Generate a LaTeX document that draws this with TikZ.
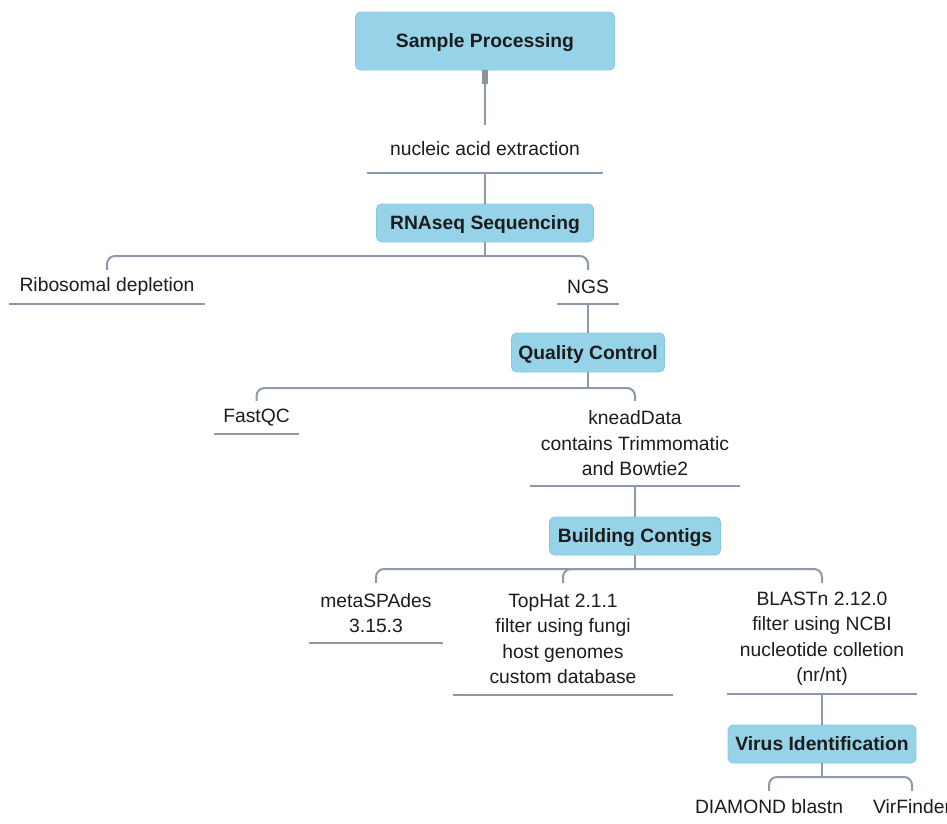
\documentclass[tikz,border=0pt]{standalone}
\usepackage{fontspec}
\setmainfont{Liberation Sans}

\definecolor{boxblue}{HTML}{97D3E8}
\definecolor{boxedge}{HTML}{86C8E0}
\definecolor{wire}{HTML}{8E98AB}
\definecolor{stubgray}{HTML}{8A93A4}
\definecolor{ink}{HTML}{1C1C1C}

\tikzset{
  stage/.style={rectangle, rounded corners=5pt, fill=boxblue, draw=boxedge,
    line width=0.8pt, inner sep=0pt, text=ink, text height=13.8pt, text depth=0pt,
    font=\fontsize{19.3}{23}\selectfont\bfseries},
  leaf/.style={rectangle, inner sep=0pt, align=center, text=ink,
    font=\fontsize{19.3}{25.5}\selectfont},
  wire/.style={draw=wire, line width=2pt},
  bus/.style={wire, rounded corners=8pt},
  rule/.style={draw=wire, line width=2pt},
  tab/.style={draw=stubgray, line width=6pt},
}

\begin{document}
\begin{tikzpicture}[x=1pt, y=-1pt]
  \useasboundingbox (0,0) rectangle (947,823);
  \clip (0,0) rectangle (947,823);

  % stages and their leaves
  \node[stage, minimum width=259pt, minimum height=58pt] (sp) at (485,41) {Sample Processing};
  \node[leaf, minimum width=236pt, minimum height=48pt] (nae) at (485,149) {nucleic acid extraction};
  \node[stage, minimum width=217pt, minimum height=38pt] (rna) at (485,223) {RNAseq Sequencing};
  \node[leaf, minimum width=195pt, minimum height=34pt] (ribo) at (107,287) {Ribosomal depletion};
  \node[leaf, minimum width=61pt, minimum height=34pt] (ngs) at (588,287) {NGS};
  \node[stage, minimum width=153pt, minimum height=39pt] (qc) at (588,352.5) {Quality Control};
  \node[leaf, minimum width=85pt, minimum height=33pt] (fastqc) at (256.5,417.5) {FastQC};
  \node[leaf, minimum width=209pt, minimum height=85pt] (knead) at (635,443.5)
    {kneadData\\contains Trimmomatic\\and Bowtie2};
  \node[stage, minimum width=171pt, minimum height=38pt] (bc) at (635,536) {Building Contigs};
  \node[leaf, minimum width=134pt, minimum height=60pt] (meta) at (376,613) {metaSPAdes\\3.15.3};
  \node[leaf, minimum width=220pt, minimum height=112pt] (tophat) at (563,639)
    {TopHat 2.1.1\\filter using fungi\\host genomes\\custom database};
  \node[leaf, minimum width=190pt, minimum height=111pt] (blast) at (822,638.5)
    {BLASTn 2.12.0\\filter using NCBI\\nucleotide colletion\\(nr/nt)};
  \node[stage, minimum width=188pt, minimum height=38pt] (vi) at (822,744) {Virus Identification};
  \node[leaf, minimum height=32pt] (diamond) at (769,807) {DIAMOND blastn};
  \node[leaf, minimum height=32pt] (virf) at (912,807) {VirFinder};

  % branching points
  \coordinate (rna-bus) at (485,256);
  \coordinate (qc-bus) at (588,388);
  \coordinate (bc-bus) at (635,569);
  \coordinate (vi-bus) at (822,777);

  % connectors
  \draw[wire] (sp.south) -- (nae.north);
  \draw[tab] (sp.south) -- ++(0,14);
  \draw[wire] (nae.south) -- (rna.north);

  \draw[wire] (rna.south) -- (rna-bus);
  \draw[bus] (rna-bus) -| (ribo.north);
  \draw[bus] (rna-bus) -| (ngs.north);
  \draw[wire] (ngs.south) -- (qc.north);

  \draw[wire] (qc.south) -- (qc-bus);
  \draw[bus] (qc-bus) -| (fastqc.north);
  \draw[bus] (qc-bus) -| (knead.north);
  \draw[wire] (knead.south) -- (bc.north);

  \draw[wire] (bc.south) -- (bc-bus);
  \draw[bus] (bc-bus) -| (meta.north);
  \draw[bus] (bc-bus) -| (tophat.north);
  \draw[bus] (bc-bus) -| (blast.north);
  \draw[wire] (blast.south) -- (vi.north);

  \draw[wire] (vi.south) -- (vi-bus);
  \draw[bus] (vi-bus) -| (diamond.north);
  \draw[bus] (vi-bus) -| (virf.north);

  % underlines beneath the leaf labels
  \foreach \n in {nae,ribo,ngs,fastqc,knead,meta,tophat,blast}
    \draw[rule] (\n.south west) -- (\n.south east);
\end{tikzpicture}
\end{document}
